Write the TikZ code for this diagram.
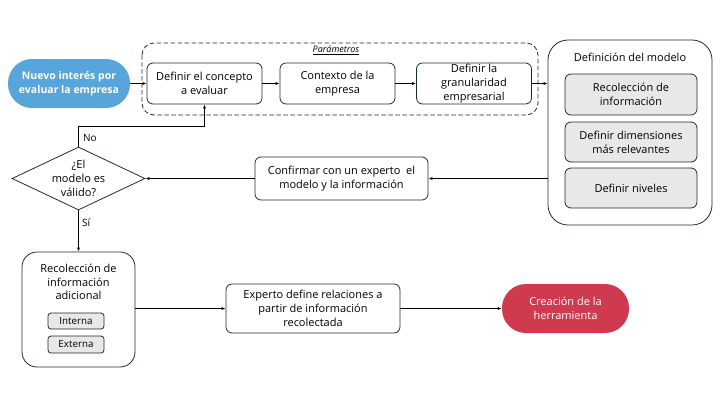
\documentclass[tikz,border=0pt]{standalone}
\usepackage{fontspec}
\setmainfont{Open Sans}
\usetikzlibrary{arrows.meta,shapes.geometric}
\definecolor{edge}{HTML}{1B2A38}
\definecolor{pillblue}{HTML}{57A5DB}
\definecolor{pillred}{HTML}{D03A4F}
\definecolor{graybox}{HTML}{E8E8E8}
\begin{document}
\begin{tikzpicture}[x=1pt,y=-1pt,
  txt/.style={font=\fontsize{11}{13.8}\selectfont, align=center},
  box/.style={txt, draw=edge, line width=0.8pt, rounded corners=6pt, inner sep=1pt},
  pill/.style={txt, rounded corners=24pt, text=white, inner sep=1pt},
  gbox/.style={box, fill=graybox},
  small/.style={draw=edge, line width=0.8pt, fill=graybox, rounded corners=3pt, font=\fontsize{9.8}{10}\selectfont, inner sep=1pt},
  arr/.style={draw=black, line width=0.7pt, -{Latex[length=4pt,width=3pt]}},
  lab/.style={font=\fontsize{10}{12}\selectfont, anchor=west, inner sep=1pt}
]
\useasboundingbox (0,0) rectangle (720,405);
% dashed container
\draw[edge, line width=0.8pt, dashed, dash pattern=on 4.5pt off 2.5pt, rounded corners=12pt] (142,43) rectangle (538,115);
\node[font=\fontsize{9}{10}\selectfont\itshape] (param) at (336,50.5) {\underline{Parámetros}};

\node[pill, fill=pillblue, minimum width=122pt, minimum height=49pt, font=\fontsize{10.5}{14}\selectfont\bfseries] (start) at (69,83.5) {Nuevo interés por\\evaluar la empresa};
\node[box, minimum width=115pt, minimum height=41pt] (b1) at (204.5,83.5) {Definir el concepto\\a evaluar};
\node[box, minimum width=115pt, minimum height=41pt] (b2) at (337.5,83.5) {Contexto de la\\empresa};
\node[box, minimum width=115pt, minimum height=41pt] (b3) at (474,83.5) {Definir la\\granularidad\\empresarial};

% model container
\node[draw=edge, line width=0.8pt, rounded corners=20pt, minimum width=164pt, minimum height=185pt] (model) at (630,132.5) {};
\node[txt] (mtitle) at (630,57.5) {Definición del modelo};
\node[gbox, minimum width=132pt, minimum height=41pt] (g1) at (631,94.5) {Recolección de\\información};
\node[gbox, minimum width=132pt, minimum height=40pt] (g2) at (631,142) {Definir dimensiones\\más relevantes};
\node[gbox, minimum width=132pt, minimum height=40pt] (g3) at (631,188) {Definir niveles};

\node[box, minimum width=173pt, minimum height=43pt] (conf) at (341.5,178.5) {Confirmar con un experto\ \ el\\modelo y la información};

\node[diamond, draw=edge, line width=0.8pt, minimum width=133pt, minimum height=63pt, inner sep=0pt] (dia) at (78.5,178.5) {};
\node[txt] (diatext) at (dia) {¿El\\modelo es\\válido?};

\node[draw=edge, line width=0.8pt, rounded corners=15pt, minimum width=113pt, minimum height=115pt] (rec) at (78.5,309.5) {};
\node[txt] (rectext) at (78.5,282) {Recolección de\\información\\adicional};
\node[small, minimum width=56pt, minimum height=16pt] (int) at (76,321) {Interna};
\node[small, minimum width=56pt, minimum height=17pt] (ext) at (76,344.5) {Externa};

\node[box, minimum width=174pt, minimum height=49pt] (exp) at (313,308.5) {Experto define relaciones a\\partir de información\\recolectada};
\node[pill, fill=pillred, minimum width=127pt, minimum height=49pt] (end) at (565.5,308.5) {Creación de la\\herramienta};

% connectors
\draw[arr] (start.east) -- (b1.west);
\draw[arr] (b1.east) -- (b2.west);
\draw[arr] (b2.east) -- (b3.west);
\draw[arr] (b3.east) -- (b3.east -| model.west);
\draw[arr] (model.west |- conf.east) -- (conf.east);
\draw[arr] (conf.west) -- (dia.east);
\coordinate (nob) at (204.5,126);
\draw[arr] (dia.north) |- (nob) -- (b1.south);
\node[lab] (nolab) at (82,137.5) {No};
\draw[arr] (dia.south) -- (rec.north);
\node[lab] (silab) at (81,223) {Sí};
\draw[arr] (rec.east |- exp.west) -- (exp.west);
\draw[arr] (exp.east) -- (end.west);
\end{tikzpicture}
\end{document}
